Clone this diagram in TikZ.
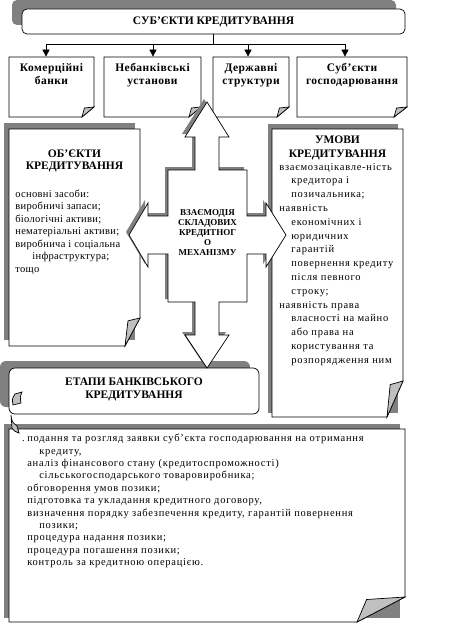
\documentclass[tikz,border=0pt]{standalone}
\usepackage{fontspec}
\setmainfont{Liberation Serif}
\newfontfamily\bodyfont{Liberation Serif}[LetterSpace=7]
\newfontfamily\objfont{Liberation Serif}[LetterSpace=3]
\newfontfamily\boxfont{Liberation Serif}[LetterSpace=4]
\usetikzlibrary{arrows.meta}
\definecolor{shd}{RGB}{128,128,128}
\definecolor{crl}{RGB}{192,192,192}
\newcommand\pagebox[6]{%
  \filldraw[fill=white] (#1,#2) -- (#3,#2) -- (#3,{#4-#6}) -- ({#3-#5},#4) -- (#1,#4) -- cycle;
  \filldraw[fill=crl] ({#3-#5},#4) -- ({#3-0.8*#5},{#4-0.9*#6}) -- (#3,{#4-#6}) -- cycle;
}
\def\quadpath{(207,102) -- (229,137) -- (219,137) -- (219,170) -- (247,170) -- (247,216) -- (266,216) -- (266,203) -- (286,235) -- (266,267) -- (266,254) -- (247,254) -- (247,302) -- (219,302) -- (219,335) -- (229,335) -- (207,368) -- (185,335) -- (195,335) -- (195,302) -- (168,302) -- (168,254) -- (148,254) -- (148,267) -- (129,235) -- (148,203) -- (148,216) -- (168,216) -- (168,170) -- (195,170) -- (195,137) -- (185,137) -- cycle}
\begin{document}
\begin{tikzpicture}[x=1pt,y=-1pt,line width=0.7pt,
  lbl/.style={inner sep=0pt, anchor=base},
  lst/.style={inner sep=0pt, anchor=base west},
  arr/.style={-{Triangle[width=7pt,length=7pt]}}]
\useasboundingbox (0,0) rectangle (463,623);
\fill[white] (0,0) rectangle (463,623);

% top box
\fill[shd, rounded corners=5pt] (12,0) rectangle (396,25);
\node[draw, fill=white, rounded corners=5pt, minimum width=383pt, minimum height=25pt, inner sep=0] (top) at (213.5,21.5) {};
\node[lbl] (toptxt) at (213.5,24.5) {\bfseries\fontsize{11.5}{13}\selectfont СУБ’ЄКТИ КРЕДИТУВАННЯ};

% small boxes
\pagebox{9}{57}{94}{117}{12}{10}
\pagebox{104}{57}{201}{117}{12}{10}
\pagebox{213}{57}{289}{117}{12}{10}
\pagebox{297}{57}{407}{117}{13}{10}
\node[inner sep=0, minimum width=85pt, minimum height=60pt] (b1) at (51.5,87) {};
\node[inner sep=0, minimum width=97pt, minimum height=60pt] (b2) at (152.5,87) {};
\node[inner sep=0, minimum width=76pt, minimum height=60pt] (b3) at (251,87) {};
\node[inner sep=0, minimum width=110pt, minimum height=60pt] (b4) at (352,87) {};
\node[lbl] (t1) at (51.5,71.7) {\parbox[t]{90pt}{\centering\boxfont\bfseries\fontsize{11.5}{13.3}\selectfont Комерційні\\банки}};
\node[lbl] (t2) at (152.5,71.7) {\parbox[t]{100pt}{\centering\boxfont\bfseries\fontsize{11.5}{13.3}\selectfont Небанківські\\установи}};
\node[lbl] (t3) at (251,71.7) {\parbox[t]{90pt}{\centering\boxfont\bfseries\fontsize{11.5}{13.3}\selectfont Державні\\структури}};
\node[lbl] (t4) at (352,71.7) {\parbox[t]{110pt}{\centering\boxfont\bfseries\fontsize{11.5}{13.3}\selectfont Суб’єкти\\господарювання}};

% connectors
\coordinate (hl) at (46,44);
\coordinate (hm) at (153,44);
\coordinate (hn) at (248,44);
\coordinate (hr) at (345,44);
\draw (top.south) -- (top.south |- hl);
\draw (hl) -- (hr);
\draw[arr] (hl) -- (hl |- b1.north);
\draw[arr] (hm) -- (hm |- b2.north);
\draw[arr] (hn) -- (hn |- b3.north);
\draw[arr] (hr) -- (hr |- b4.north);

% objects box
\fill[shd] (4,123) rectangle (135,340);
\pagebox{9}{129}{140}{346}{15}{28}
\node[lbl] (obh) at (74.5,157) {\parbox[t]{130pt}{\centering\bfseries\fontsize{11.5}{13}\selectfont ОБ’ЄКТИ\\КРЕДИТУВАННЯ}};
\node[lst] (obl) at (15,197) {\parbox[t]{300pt}{\raggedright\objfont\fontsize{10.5}{12.5}\selectfont
основні засоби:\\
виробничі запаси;\\
біологічні активи;\\
нематеріальні активи;\\
виробнича і соціальна\\
\hspace*{17pt}інфраструктура;\\
тощо}};

% conditions box
\fill[shd] (268,124) rectangle (398,413);
\pagebox{272}{129}{403}{417}{16}{36}
\node[lbl] (umh) at (337.5,143) {\parbox[t]{130pt}{\centering\bfseries\fontsize{11.5}{14}\selectfont УМОВИ\\КРЕДИТУВАННЯ}};
\node[lst] (uml) at (279,170) {\parbox[t]{300pt}{\raggedright\bodyfont\fontsize{10.5}{13.8}\selectfont
взаємозацікавле-ність\\
\hspace*{12pt}кредитора і\\
\hspace*{12pt}позичальника;\\
наявність\\
\hspace*{12pt}економічних і\\
\hspace*{12pt}юридичних\\
\hspace*{12pt}гарантій\\
\hspace*{12pt}повернення кредиту\\
\hspace*{12pt}після певного\\
\hspace*{12pt}строку;\\
наявність права\\
\hspace*{12pt}власності на майно\\
\hspace*{12pt}або права на\\
\hspace*{12pt}користування та\\
\hspace*{12pt}розпорядження ним}};

% bottom box
\fill[shd] (4,424) rectangle (400,618);
\pagebox{9}{429}{405}{622}{48}{25}
\node[lst] (btl) at (27,441.7) {\parbox[t]{400pt}{\raggedright\bodyfont\fontsize{10.5}{12.4}\selectfont
\leavevmode\llap{.\hspace{2.5pt}}подання та розгляд заявки суб’єкта господарювання на отримання\\
\hspace*{12pt}кредиту,\\
аналіз фінансового стану (кредитоспроможності)\\
\hspace*{12pt}сільськогосподарського товаровиробника;\\
обговорення умов позики;\\
підготовка та укладання кредитного договору,\\
визначення порядку забезпечення кредиту, гарантій повернення\\
\hspace*{12pt}позики;\\
процедура надання позики;\\
процедура погашення позики;\\
контроль за кредитною операцією.}};

% stages scroll
\fill[shd, rounded corners=6pt] (0,361) rectangle (250,407);
\filldraw[fill=white, rounded corners=6pt] (9,368) rectangle (259,414);
\filldraw[fill=crl] (13,405) .. controls (12,399) .. (15,394) -- (22,392) .. controls (20,397) .. (21,403) -- cycle;
\filldraw[fill=crl] (11,415) .. controls (12,422) .. (17,426) -- (19,433) .. controls (14,431) .. (12,428) -- cycle;
\node[lbl] (eth) at (134,385.7) {\parbox[t]{250pt}{\centering\bfseries\fontsize{11.5}{12.5}\selectfont ЕТАПИ БАНКІВСЬКОГО\\КРЕДИТУВАННЯ}};

% central quad arrow
\fill[shd, shift={(-3,-3)}] \quadpath;
\filldraw[fill=white] \quadpath;
\node[lbl] (ctr) at (207.5,215) {\parbox[t]{70pt}{\centering\bfseries\fontsize{9}{10.2}\selectfont ВЗАЄМОДІЯ\\СКЛАДОВИХ\\КРЕДИТНОГ\\О\\МЕХАНІЗМУ}};
\end{tikzpicture}
\end{document}
